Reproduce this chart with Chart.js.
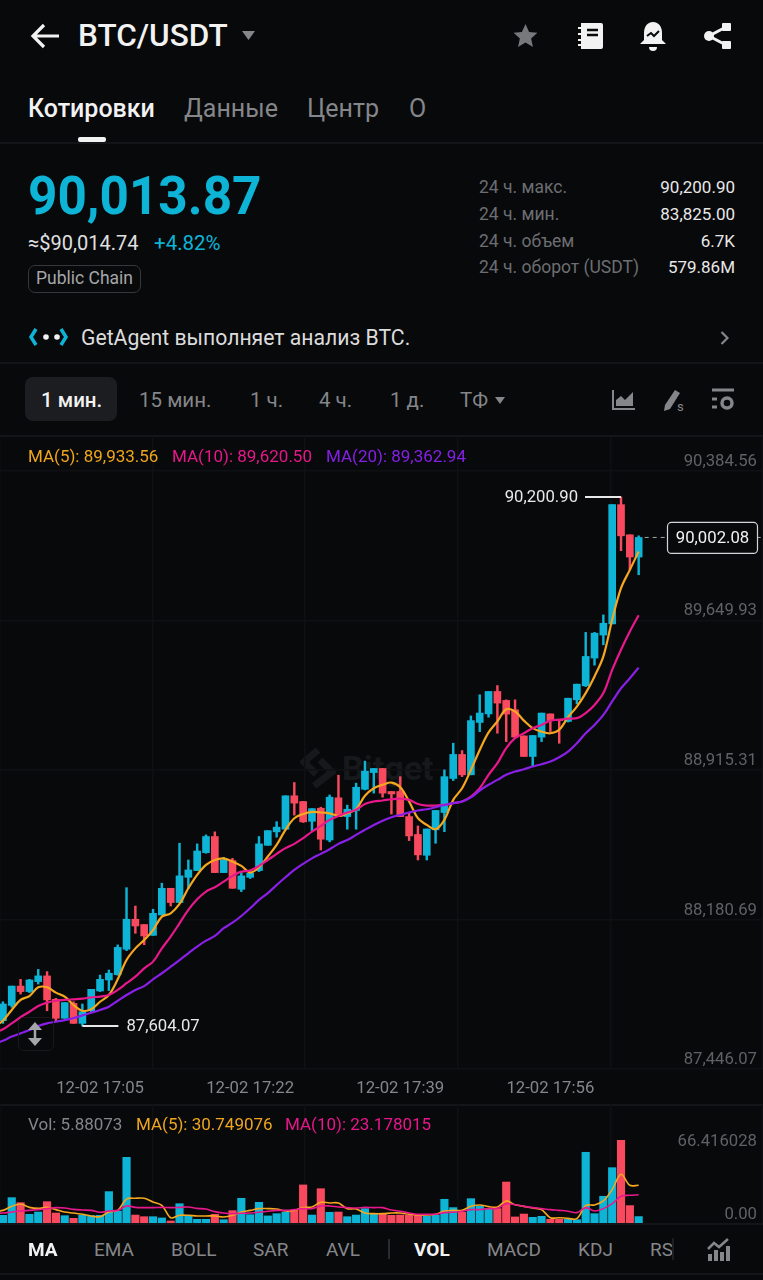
<!DOCTYPE html>
<html lang="ru">
<head>
<meta charset="utf-8">
<title>BTC/USDT</title>
<script src="https://cdn.jsdelivr.net/npm/chart.js@4"></script>
<style>
  html,body{margin:0;padding:0;background:#08090b;width:763px;height:1280px;overflow:hidden}
  body{position:relative;font-family:Roboto,sans-serif;color:#e8e8e8}
  .t{position:absolute;white-space:nowrap;line-height:1;transform:translateY(-50%)}
  .r{transform:translate(-100%,-50%)}
  .g{color:#85868a}
  .d{color:#6d6e72}
  .up{color:#0db4d6}
  .line{position:absolute;left:0;width:763px;height:1.5px;background:#141518}
  .ico{position:absolute}
  canvas{position:absolute;left:0;display:block}
  #wm{position:absolute;left:300px;top:748px;display:flex;align-items:center;gap:6px;color:#16181b;font-weight:700;font-size:34px}
</style>
</head>
<body>
<!-- header -->
<svg class="ico" style="left:30px;top:22px" width="32" height="28" viewBox="0 0 32 28"><path d="M14 3L3 14l11 11M3 14h26" fill="none" stroke="#f2f2f2" stroke-width="3.2"/></svg>
<div class="t" style="left:78px;top:36px;font-size:31.500px;font-weight:500;color:#f2f2f2">BTC/USDT</div>
<svg class="ico" style="left:242px;top:31px" width="13" height="9"><path d="M0 0h13L6.500 9z" fill="#85868a"/></svg>
<svg class="ico" style="left:512px;top:23px" width="27" height="26" viewBox="0 0 24 24"><path d="M12 1l3.300 7.300 7.700.8-5.800 5.200 1.700 7.800L12 18.100 5.100 22.100l1.700-7.800L1 9.100l7.700-.8z" fill="#77787c"/></svg>
<svg class="ico" style="left:577px;top:22px" width="27" height="28" viewBox="0 0 27 28"><path d="M4 1h20a2 2 0 0 1 2 2v22a2 2 0 0 1-2 2H4z" fill="#f2f2f2"/><path d="M1 6h5M1 12h5M1 18h5M1 23h5" stroke="#f2f2f2" stroke-width="2"/><path d="M10 8h11M10 13h11" stroke="#08090b" stroke-width="2.500"/></svg>
<svg class="ico" style="left:639px;top:21px" width="28" height="30" viewBox="0 0 28 30"><path d="M14 1c6 0 9 5 9 11v7l4 4H1l4-4v-7C5 6 8 1 14 1z" fill="#f2f2f2"/><path d="M8 15l4-3 3 3 5-5" fill="none" stroke="#08090b" stroke-width="2"/><path d="M10 26a4 4 0 0 0 8 0z" fill="#f2f2f2"/></svg>
<svg class="ico" style="left:703px;top:22px" width="29" height="28" viewBox="0 0 29 28"><path d="M23 5L6 14l17 9" fill="none" stroke="#f2f2f2" stroke-width="3"/><circle cx="6" cy="14" r="5" fill="#f2f2f2"/><rect x="19" y="1" width="9" height="8" rx="1" fill="#f2f2f2"/><rect x="19" y="19" width="9" height="8" rx="1" fill="#f2f2f2"/></svg>

<!-- tabs -->
<div class="t" style="left:28px;top:108px;font-size:25px;font-weight:500;color:#f2f2f2">Котировки</div>
<div class="t g" style="left:184px;top:108px;font-size:25px">Данные</div>
<div class="t g" style="left:307px;top:108px;font-size:25px">Центр</div>
<div class="t g" style="left:409px;top:108px;font-size:25px">О</div>
<div style="position:absolute;left:78px;top:137px;width:28px;height:5px;border-radius:2px;background:#f2f2f2"></div>
<div class="line" style="top:142px"></div>

<!-- price block -->
<div class="t up" style="left:28px;top:196px;font-size:54px;font-weight:700;transform-origin:left center;transform:translateY(-50%) scaleX(.95)">90,013.87</div>
<div class="t" style="left:28px;top:243px;font-size:20px;color:#e0e0e0">≈$90,014.74</div>
<div class="t up" style="left:154px;top:243px;font-size:20.500px">+4.82%</div>
<div class="t" style="left:28px;top:278.500px;box-sizing:border-box;width:113px;height:28px;border:1.500px solid #36373a;border-radius:7px;font-size:17.500px;line-height:25px;text-align:center;color:#a5a6a9">Public Chain</div>

<div class="t d" style="left:479px;top:188px;font-size:17.500px">24 ч. макс.</div>
<div class="t d" style="left:479px;top:215px;font-size:17.500px">24 ч. мин.</div>
<div class="t d" style="left:479px;top:242px;font-size:17.500px">24 ч. объем</div>
<div class="t d" style="left:479px;top:268px;font-size:17.500px">24 ч. оборот (USDT)</div>
<div class="t r" style="left:735px;top:187px;font-size:17px">90,200.90</div>
<div class="t r" style="left:735px;top:214px;font-size:17px">83,825.00</div>
<div class="t r" style="left:735px;top:241px;font-size:17px">6.7K</div>
<div class="t r" style="left:735px;top:267px;font-size:17px">579.86M</div>

<!-- agent row -->
<svg class="ico" style="left:28px;top:327px" width="42" height="20" viewBox="0 0 42 20"><path d="M8 2L3 10l5 8" fill="none" stroke="#0db4d6" stroke-width="3.500"/><circle cx="18" cy="10" r="2.800" fill="#f2f2f2"/><circle cx="29" cy="10" r="2.800" fill="#f2f2f2"/><path d="M33 2l5 8-5 8" fill="none" stroke="#0db4d6" stroke-width="3.500"/></svg>
<div class="t" style="left:81px;top:338px;font-size:21.200px;color:#dcdcdc">GetAgent выполняет анализ BTC.</div>
<svg class="ico" style="left:720px;top:331px" width="9" height="14"><path d="M1.500 1l6 6-6 6" fill="none" stroke="#85868a" stroke-width="2.200"/></svg>
<div class="line" style="top:362px"></div>

<!-- timeframe row -->
<div style="position:absolute;left:25px;top:377px;width:92px;height:44px;border-radius:8px;background:#1c1d21"></div>
<div class="t" style="left:41px;top:400px;font-size:20.500px;font-weight:500;color:#f2f2f2">1 мин.</div>
<div class="t g" style="left:139px;top:400px;font-size:20.500px">15 мин.</div>
<div class="t g" style="left:250px;top:400px;font-size:20.500px">1 ч.</div>
<div class="t g" style="left:319px;top:400px;font-size:20.500px">4 ч.</div>
<div class="t g" style="left:390px;top:400px;font-size:20.500px">1 д.</div>
<div class="t g" style="left:460px;top:400px;font-size:20.500px">ТФ</div>
<svg class="ico" style="left:495px;top:397px" width="10" height="7"><path d="M0 0h10L5 7z" fill="#85868a"/></svg>
<svg class="ico" style="left:612px;top:389px" width="23" height="22" viewBox="0 0 23 22"><path d="M1 1v19h22" fill="none" stroke="#85868a" stroke-width="2"/><path d="M4 17V11l5-4 4 4 8-8v14z" fill="#85868a"/></svg>
<svg class="ico" style="left:660px;top:388px" width="26" height="24" viewBox="0 0 26 24"><path d="M15 2l5 3-10 16-6 2 1-6z" fill="#85868a"/><text x="17" y="23" font-size="13" fill="#85868a">s</text></svg>
<svg class="ico" style="left:711px;top:388px" width="24" height="24" viewBox="0 0 24 24"><path d="M1 2h22M1 11h5M1 19h5" stroke="#85868a" stroke-width="3"/><circle cx="16" cy="15" r="5" fill="none" stroke="#85868a" stroke-width="3.500"/></svg>
<div class="line" style="top:435px"></div>

<!-- watermark sits under the price canvas -->
<div id="wm"><svg width="36" height="40" viewBox="0 0 36 40"><path d="M18 2L4 14l12 12M14 38l18-14-12-12" fill="none" stroke="#16181b" stroke-width="7"/></svg><span>Bitget</span></div>

<canvas id="priceChart" width="763" height="668" style="top:436px"></canvas>

<div class="t" style="left:28px;top:456px;font-size:17px;color:#f0a51e">MA(5): 89,933.56</div>
<div class="t" style="left:172px;top:456px;font-size:17px;color:#e6178a">MA(10): 89,620.50</div>
<div class="t" style="left:326px;top:456px;font-size:17px;color:#8420e6">MA(20): 89,362.94</div>

<!-- scroll handle on the price pane -->
<div style="position:absolute;left:18px;top:1017px;width:34px;height:32px;border:1.500px solid #18191c;border-radius:6px"></div>
<svg class="ico" style="left:27px;top:1022px" width="16" height="24" viewBox="0 0 16 24"><path d="M8 0l7 8H1zM8 24l-7-8h14z" fill="#a5a6a9"/><path d="M8 6v12" stroke="#a5a6a9" stroke-width="2.500"/></svg>

<div class="line" style="top:1104px"></div>
<canvas id="volChart" width="763" height="120" style="top:1104px"></canvas>
<div class="t g" style="left:28px;top:1124px;font-size:17px">Vol: 5.88073</div>
<div class="t" style="left:136px;top:1124px;font-size:17px;color:#f0a51e">MA(5): 30.749076</div>
<div class="t" style="left:285px;top:1124px;font-size:17px;color:#e6178a">MA(10): 23.178015</div>
<div class="line" style="top:1223px"></div>

<!-- indicator tabs -->
<div class="t" style="left:28px;top:1249px;font-size:19px;font-weight:700;color:#f2f2f2">MA</div>
<div class="t g" style="left:94px;top:1249px;font-size:19px">EMA</div>
<div class="t g" style="left:171px;top:1249px;font-size:19px">BOLL</div>
<div class="t g" style="left:253px;top:1249px;font-size:19px">SAR</div>
<div class="t g" style="left:326px;top:1249px;font-size:19px">AVL</div>
<div style="position:absolute;left:388px;top:1239px;width:1.500px;height:20px;background:#2a2b2e"></div>
<div class="t" style="left:414px;top:1249px;font-size:19px;font-weight:700;color:#f2f2f2">VOL</div>
<div class="t g" style="left:487px;top:1249px;font-size:19px">MACD</div>
<div class="t g" style="left:578px;top:1249px;font-size:19px">KDJ</div>
<div class="t g" style="left:650px;top:1249px;font-size:19px;width:22px;overflow:hidden">RSI</div>
<div style="position:absolute;left:672px;top:1238px;width:1.500px;height:22px;background:#1d1e21"></div>
<svg class="ico" style="left:707px;top:1237px" width="23" height="24" viewBox="0 0 23 24"><path d="M1 12l6-6 5 4 9-8" fill="none" stroke="#85868a" stroke-width="2.500"/><path d="M1 17h4v7H1zM7 13h4v11H7zM13 15h4v9h-4zM19 9h4v15h-4z" fill="#85868a"/></svg>
<div class="line" style="top:1273px"></div>

<script>
// one minute candles, 16:53 .. 18:06, the first one sits just off the left edge
const opens = [87620,
  87630,87705,87800,87773,87822,87850,87735,87642,87715,87617,
  87679,87776,87830,87856,87981,88128,88102,88049,88149,88280,
  88210,88334,88367,88455,88534,88357,88416,88275,88334,88367,
  88491,88557,88570,88734,88706,88609,88673,88517,88724,88632,
  88662,88766,88848,88868,88755,88755,88632,88544,88442,88567,
  88652,88819,88937,88837,89094,89136,89246,89202,89156,89028,
  88927,89022,89136,89107,89099,89205,89274,89410,89523,89578,
  90163,90015,89906];
const highs = [87650,
  87723,87800,87833,87833,87882,87871,87740,87719,87723,87712,
  87784,87854,87879,88002,88283,88193,88102,88177,88305,88280,
  88501,88419,88498,88542,88557,88432,88427,88357,88367,88534,
  88563,88607,88734,88799,88706,88671,88678,88738,88835,88688,
  88796,88904,88868,88868,88755,88828,88652,88586,88571,88662,
  88861,88992,88956,89126,89230,89246,89275,89205,89205,89028,
  89030,89140,89136,89107,89213,89282,89536,89536,89622,90163,
  90200.90,90015,90010];
const lows = [87612,
  87617,87696,87761,87768,87810,87679,87630,87642,87617,87604.07,
  87674,87773,87778,87853,87974,88059,88003,88049,88149,88193,
  88210,88280,88367,88452,88357,88357,88280,88264,88328,88362,
  88491,88531,88570,88639,88603,88563,88468,88508,88632,88570,
  88570,88763,88747,88727,88644,88632,88514,88419,88419,88501,
  88558,88809,88828,88837,89049,89120,89041,89000,89022,88927,
  88878,89000,89049,88992,89096,89185,89270,89375,89475,89578,
  89937,89843,89819];
const closes = [87640,
  87712,87800,87773,87830,87850,87732,87642,87719,87617,87674,
  87784,87833,87863,87990,88128,88095,88046,88157,88280,88210,
  88341,88370,88463,88534,88357,88419,88280,88341,88354,88498,
  88563,88580,88734,88698,88606,88671,88521,88727,88632,88668,
  88776,88855,88868,88747,88743,88632,88537,88444,88571,88662,
  88828,88937,88837,89103,89140,89246,89189,89135,89022,88927,
  89030,89140,89103,89103,89213,89282,89418,89532,89581,90163,
  90010,89906,90002.08];
const ma5 = [87601,
  87630,87683,87732,87751,87794,87794,87768,87748,87707,87679,
  87686,87723,87756,87833,87928,87985,88026,88075,88141,88157,
  88203,88280,88346,88395,88419,88427,88411,88390,88357,88383,
  88436,88493,88567,88624,88645,88655,88652,88648,88635,88648,
  88668,88734,88771,88788,88799,88776,88706,88624,88591,88570,
  88616,88714,88771,88861,88959,89045,89099,89159,89148,89103,
  89066,89049,89041,89058,89120,89172,89238,89320,89418,89598,
  89753,89843,89933.56];
const ma10 = [87571,
  87588,87617,87647,87674,87702,87719,87728,87732,87735,87738,
  87745,87748,87756,87781,87814,87846,87887,87920,87985,88043,
  88108,88174,88226,88264,88285,88313,88341,88362,88367,88390,
  88419,88449,88477,88498,88526,88558,88586,88616,88635,88652,
  88665,88694,88706,88711,88717,88720,88714,88694,88686,88686,
  88689,88698,88706,88730,88771,88837,88894,88968,89017,89041,
  89066,89082,89103,89107,89113,89115,89140,89180,89238,89352,
  89451,89541,89620.50];
const ma20 = [87516,
  87532,87552,87568,87584,87604,87617,87625,87633,87643,87656,
  87669,87683,87699,87728,87756,87781,87800,87833,87863,87895,
  87928,87961,87994,88023,88046,88084,88111,88144,88182,88223,
  88256,88296,88334,88370,88400,88427,88449,88472,88498,88517,
  88542,88567,88591,88612,88629,88640,88652,88662,88668,88678,
  88689,88698,88706,88726,88760,88788,88812,88837,88853,88864,
  88878,88889,88902,88923,88951,88992,89041,89082,89131,89197,
  89262,89311,89362.94];
const volumes = [5.0,
  6.9,20.9,16.9,7.7,9.5,17.7,8.7,6.6,4.5,6.9,
  6.6,6.9,25.7,10.3,52.9,7.1,5.8,5.8,4.8,2.4,
  16.1,6.4,3.7,3.7,7.7,3.4,10.6,20.4,7.4,17.2,
  6.4,8.2,9.3,10.8,31.0,7.1,28.0,9.3,9.5,5.8,
  7.1,12.2,7.7,7.7,6.9,7.1,6.9,6.9,6.1,6.9,
  19.6,13.0,9.3,20.1,14.0,12.2,12.2,33.3,5.6,7.9,
  5.3,6.1,3.7,3.7,3.7,3.4,56.9,8.2,22.0,44.7,
  66.416028,14.6,5.88073];
const volMa5 = [10.0,
  10.8,14.0,15.9,13.2,12.4,13.2,11.4,9.5,8.7,7.7,
  6.4,5.8,9.5,10.8,19.8,20.4,20.4,17.5,14.8,5.0,
  6.9,6.9,6.4,6.4,6.4,5.6,6.9,9.5,10.8,12.2,
  12.2,11.9,10.3,10.8,13.0,13.5,17.2,16.7,16.7,12.2,
  11.9,8.7,8.2,8.2,8.7,8.7,7.7,7.1,7.1,7.7,
  10.3,10.8,10.8,14.0,15.1,13.8,13.5,18.3,15.3,14.0,
  12.7,11.4,5.0,5.0,4.5,4.2,14.6,15.1,18.3,27.3,
  39.4,30.7,30.749076];
const volMa10 = [8.5,
  8.7,9.5,10.3,10.8,11.4,12.2,13.0,12.7,11.6,11.1,
  10.8,9.3,10.3,10.8,14.3,13.2,13.0,13.0,13.2,13.0,
  13.2,13.5,12.4,11.9,9.8,8.7,8.2,8.5,8.7,9.3,
  10.1,10.8,10.8,11.4,12.2,12.2,14.3,14.3,13.5,13.0,
  12.7,13.2,13.0,13.0,11.1,10.1,8.7,7.7,7.7,7.7,
  9.0,9.3,10.1,11.4,11.4,12.2,12.4,16.1,15.3,14.0,
  13.0,12.2,11.4,10.8,10.1,9.0,13.0,10.3,12.2,16.1,
  22.0,22.8,23.178015];

const priceTicks = [90384.56, 89649.93, 88915.31, 88180.69, 87446.07];
const gridPrices = [90328, 89592, 88861, 88124, 87393];
const timeIndex = [12, 29, 46, 63];
const timeLabels = ['12-02 17:05', '12-02 17:22', '12-02 17:39', '12-02 17:56'];
const volTicks = [66.416028];
const volZeroTicks = [0];

const UP = '#0db4d6', DOWN = '#f9495f', GRID = '#0f1013';
const ORANGE = '#f5a71f', PINK = '#e8188c', PURPLE = '#8a1fe8';
const FONT = {family:'Roboto, sans-serif', size:16.7};

const xRange = {min:0.67, max:87.08};
const at = (arr, map) => arr.map((v, i) => ({x:i, y:map ? map(v, i) : v}));
const barColors = opens.map((o, i) => closes[i] >= o ? UP : DOWN);
// axes must not eat into the plot, panes are pinned to exact pixels
const noPad = s => { s.paddingTop = s.paddingBottom = s.paddingLeft = s.paddingRight = 0; };
const zeroW = s => { s.width = 0; noPad(s); };
const zeroH = s => { s.height = 0; noPad(s); };
const lineDs = (data, color, yAxisID, width) => ({type:'line', data:at(data), borderColor:color, borderWidth:width,
  pointRadius:0, tension:0.35, yAxisID, order:1});
// 5 vertical hairlines, same on both panes
const xGrid = {type:'linear', position:'top', min:0, max:5, afterFit:zeroH,
  ticks:{display:false, stepSize:1}, grid:{color:GRID, lineWidth:1.5, drawTicks:false}, border:{display:false}};

// high / low call-outs and the live price tag
const markers = {
  id:'markers',
  afterDatasetsDraw(chart){
    const {ctx, scales:{x, y}} = chart;
    const hiI = highs.indexOf(Math.max(...highs)), loI = lows.indexOf(Math.min(...lows));
    const hx = x.getPixelForValue(hiI), hy = y.getPixelForValue(highs[hiI]);
    const lx = x.getPixelForValue(loI), ly = y.getPixelForValue(lows[loI]);
    const last = closes.length - 1, cy = y.getPixelForValue(closes[last]), cx = x.getPixelForValue(last);
    ctx.save();
    ctx.font = `16.7px ${FONT.family}`;
    ctx.textBaseline = 'middle';
    ctx.strokeStyle = '#e8e8e8'; ctx.fillStyle = '#e8e8e8'; ctx.lineWidth = 2;
    ctx.beginPath(); ctx.moveTo(hx-36, hy); ctx.lineTo(hx, hy); ctx.moveTo(lx, ly); ctx.lineTo(lx+36, ly); ctx.stroke();
    ctx.textAlign = 'right'; ctx.fillText(highs[hiI].toLocaleString('en-US',{minimumFractionDigits:2}), hx-43, hy+1);
    ctx.textAlign = 'left'; ctx.fillText(lows[loI].toLocaleString('en-US',{minimumFractionDigits:2}), lx+44, ly+1);
    // dashed price line, then the tag on top of it
    ctx.lineWidth = 1; ctx.strokeStyle = '#a5a6a9'; ctx.setLineDash([4,4]);
    ctx.beginPath(); ctx.moveTo(cx+6, cy); ctx.lineTo(763, cy); ctx.stroke();
    ctx.setLineDash([]);
    ctx.fillStyle = '#08090b'; ctx.strokeStyle = '#d4d5d8'; ctx.lineWidth = 1.2;
    ctx.beginPath(); ctx.roundRect(667.5, cy-15, 90, 31, 4); ctx.fill(); ctx.stroke();
    ctx.fillStyle = '#f2f2f2'; ctx.textAlign = 'center';
    ctx.fillText(closes[last].toLocaleString('en-US',{minimumFractionDigits:2}), 712.5, cy+1);
    ctx.restore();
  }
};

new Chart(document.getElementById('priceChart'), {
  data:{datasets:[
    {type:'bar', data:at(lows, (v,i)=>[v, highs[i]]), backgroundColor:barColors, barThickness:1.8, grouped:false, order:3},
    {type:'bar', data:at(opens, (v,i)=>[v, closes[i]]), backgroundColor:barColors, barThickness:7, minBarLength:1.5, grouped:false, order:2},
    lineDs(ma20, PURPLE, 'y', 2.2),
    lineDs(ma10, PINK, 'y', 2.2),
    lineDs(ma5, ORANGE, 'y', 2.2)
  ]},
  options:{
    responsive:false, animation:false, events:[],
    layout:{padding:0},
    plugins:{legend:{display:false}, tooltip:{enabled:false}},
    scales:{
      x:{type:'linear', offset:false, min:xRange.min, max:xRange.max, grid:{display:false}, border:{display:false},
        afterBuildTicks:s => { s.ticks = timeIndex.map(v => ({value:v})); },
        afterFit:s => { s.height = 35; noPad(s); },
        ticks:{autoSkip:false, maxRotation:0, color:'#85868a', font:FONT, padding:2,
          callback:v => timeLabels[timeIndex.indexOf(v)]}},
      xGrid,
      y:{position:'right', min:87393, max:90500, afterFit:zeroW, grid:{display:false}, border:{display:false},
        afterBuildTicks:s => { s.ticks = priceTicks.map(v => ({value:v})); },
        ticks:{mirror:true, padding:-6, labelOffset:2, color:'#606165', font:FONT, autoSkip:false,
          callback:v => v.toLocaleString('en-US',{minimumFractionDigits:2})}},
      yGrid:{position:'right', min:87393, max:90500, afterFit:zeroW, border:{display:false},
        afterBuildTicks:s => { s.ticks = gridPrices.map(v => ({value:v})); },
        grid:{color:GRID, lineWidth:1.5, drawTicks:false}, ticks:{display:false}}
    }
  },
  plugins:[markers]
});

new Chart(document.getElementById('volChart'), {
  data:{datasets:[
    {type:'bar', data:at(volumes), backgroundColor:barColors, barThickness:7.5, grouped:false, order:2},
    lineDs(volMa10, PINK, 'y', 1.6),
    lineDs(volMa5, ORANGE, 'y', 1.6)
  ]},
  options:{
    responsive:false, animation:false, events:[],
    layout:{padding:0},
    plugins:{legend:{display:false}, tooltip:{enabled:false}},
    scales:{
      x:{type:'linear', offset:false, min:xRange.min, max:xRange.max, display:false},
      xGrid,
      y:{position:'right', min:0, max:95.2, afterFit:zeroW, grid:{display:false}, border:{display:false},
        afterBuildTicks:s => { s.ticks = volTicks.map(v => ({value:v})); },
        ticks:{mirror:true, padding:-6, labelOffset:2, color:'#606165', font:FONT, callback:v => v.toFixed(6)}},
      // the 0.00 label floats above the baseline
      yZero:{position:'right', min:0, max:95.2, afterFit:zeroW, grid:{display:false}, border:{display:false},
        afterBuildTicks:s => { s.ticks = volZeroTicks.map(v => ({value:v})); },
        ticks:{mirror:true, padding:-6, labelOffset:-9, color:'#606165', font:FONT, callback:v => v.toFixed(2)}}
    }
  }
});
</script>
</body>
</html>
